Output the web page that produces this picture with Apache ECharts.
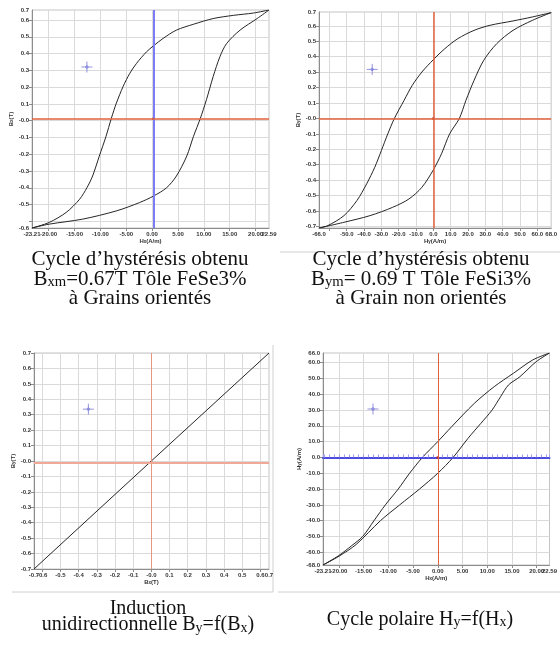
<!DOCTYPE html>
<html>
<head>
<meta charset="utf-8">
<script src="https://cdn.jsdelivr.net/npm/echarts@6/dist/echarts.min.js"></script>
<style>
  html, body { margin: 0; padding: 0; background: #fff; }
  #chart { width: 560px; height: 645px; }
</style>
</head>
<body>
<div id="chart"></div>
<script>
// Panneau 1 : Bx = f(Hx), tôle FeSi à grains orientés
const p1Upper = [[22.59, 0.66], [19.6, 0.642], [15.7, 0.628], [11.8, 0.609], [8.0, 0.575], [4.7, 0.54], [2.1, 0.49], [0.3, 0.447], [-1.1, 0.41], [-3.0, 0.342], [-4.3, 0.283], [-5.6, 0.204], [-6.9, 0.105], [-7.9, 0.012], [-8.9, -0.093], [-10.2, -0.211], [-11.5, -0.33], [-12.6, -0.4], [-14.0, -0.468], [-16.6, -0.547], [-19.9, -0.607], [-23.21, -0.64]];
const p1Lower = [[-23.21, -0.64], [-19.9, -0.617], [-13.4, -0.587], [-6.9, -0.538], [-2.4, -0.488], [0.3, -0.449], [2.8, -0.4], [4.7, -0.33], [6.7, -0.211], [8.0, -0.093], [9.3, 0.012], [10.5, 0.125], [11.8, 0.263], [13.1, 0.381], [14.4, 0.46], [17.0, 0.54], [20.3, 0.609], [22.59, 0.66]];
const p1XTicks = [-20, -15, -10, -5, 0, 5, 10, 15, 20];
const p1XLabels = ["-20.00", "-15.00", "-10.00", "-5.00", "0.00", "5.00", "10.00", "15.00", "20.00"];
const p1XEnds = [-23.21, 22.59];
const p1XEndLabels = ["-23.21", "22.59"];
const p1YTicks = [-0.6, -0.5, -0.4, -0.3, -0.2, -0.1, 0, 0.1, 0.2, 0.3, 0.4, 0.5, 0.6];
const p1YLabelValues = [-0.64, -0.5, -0.4, -0.3, -0.2, -0.1, 0, 0.1, 0.2, 0.3, 0.4, 0.5, 0.6, 0.66];
const p1YLabels = ["-0.6", "-0.5", "-0.4", "-0.3", "-0.2", "-0.1", "-0.0", "0.1", "0.2", "0.3", "0.4", "0.5", "0.6", "0.7"];
const p1Cursor = [0.25, 0.012];
const p1Marker = [-12.6, 0.32];

// Panneau 2 : By = f(Hy), tôle FeSi à grains non orientés
const p2Upper = [[68, 0.686], [57.2, 0.658], [46, 0.632], [32.8, 0.604], [23.5, 0.571], [14.1, 0.517], [6.6, 0.452], [0, 0.381], [-6.6, 0.301], [-12.2, 0.214], [-16.9, 0.117], [-22.5, 0], [-26.3, -0.1], [-30, -0.208], [-33.8, -0.316], [-38.5, -0.424], [-44.1, -0.532], [-51.6, -0.63], [-61, -0.695], [-66, -0.71]];
const p2Lower = [[-66, -0.71], [-51.6, -0.673], [-36.6, -0.63], [-23.5, -0.576], [-14.1, -0.522], [-6.6, -0.446], [0, -0.333], [4.7, -0.229], [9.4, -0.1], [15, 0], [18.8, 0.117], [23.5, 0.247], [29.1, 0.377], [36.6, 0.485], [46, 0.571], [57.2, 0.636], [68, 0.686]];
const p2XTicks = [-60, -50, -40, -30, -20, -10, 0, 10, 20, 30, 40, 50, 60];
const p2XLabelValues = [-50, -40, -30, -20, -10, 0, 10, 20, 30, 40, 50, 60];
const p2XLabels = ["-50.0", "-40.0", "-30.0", "-20.0", "-10.0", "0.0", "10.0", "20.0", "30.0", "40.0", "50.0", "60.0"];
const p2XEnds = [-66, 68];
const p2XEndLabels = ["-66.0", "68.0"];
const p2YTicks = [-0.7, -0.6, -0.5, -0.4, -0.3, -0.2, -0.1, 0, 0.1, 0.2, 0.3, 0.4, 0.5, 0.6];
const p2YLabelValues = [-0.7, -0.6, -0.5, -0.4, -0.3, -0.2, -0.1, 0, 0.1, 0.2, 0.3, 0.4, 0.5, 0.6, 0.69];
const p2YLabels = ["-0.7", "-0.6", "-0.5", "-0.4", "-0.3", "-0.2", "-0.1", "-0.0", "0.1", "0.2", "0.3", "0.4", "0.5", "0.6", "0.7"];
const p2Cursor = [0, 0];
const p2Marker = [-35.3, 0.318];

// Panneau 3 : induction unidirectionnelle By = f(Bx)
const p3Line = [[-0.645, -0.7], [0, 0], [0.647, 0.7]];
const p3XTicks = [-0.6, -0.5, -0.4, -0.3, -0.2, -0.1, 0, 0.1, 0.2, 0.3, 0.4, 0.5, 0.6];
const p3XLabels = ["-0.6", "-0.5", "-0.4", "-0.3", "-0.2", "-0.1", "-0.0", "0.1", "0.2", "0.3", "0.4", "0.5", "0.6"];
const p3XEnds = [-0.645, 0.647];
const p3XEndLabels = ["-0.7", "0.7"];
const p3YTicks = [-0.7, -0.6, -0.5, -0.4, -0.3, -0.2, -0.1, 0, 0.1, 0.2, 0.3, 0.4, 0.5, 0.6, 0.7];
const p3YLabels = ["-0.7", "-0.6", "-0.5", "-0.4", "-0.3", "-0.2", "-0.1", "-0.0", "0.1", "0.2", "0.3", "0.4", "0.5", "0.6", "0.7"];
const p3Cursor = [0, -0.01];
const p3Marker = [-0.346, 0.336];

// Panneau 4 : cycle polaire Hy = f(Hx)
const p4Upper = [[22.59, 66], [19.2, 61.6], [15.3, 53.2], [11.4, 44.7], [7.4, 34.2], [2.8, 19.4], [0, 10], [-3.1, 0], [-5.7, -10], [-8, -20], [-10.6, -30], [-12.9, -40], [-15.2, -50], [-17.5, -56], [-20, -62], [-23.21, -68]];
const p4Lower = [[-23.21, -68], [-20, -62.5], [-16.5, -55], [-11.6, -40], [-7.7, -30], [-3.7, -20], [0, -10], [3.1, 0], [6.1, 12], [8.7, 21.5], [11, 30], [12.7, 38.4], [14.3, 45.8], [16.6, 51], [19.9, 60.5], [22.59, 66]];
const p4YTicks = [-60, -50, -40, -30, -20, -10, 0, 10, 20, 30, 40, 50, 60];
const p4YLabelValues = [-68, -60, -50, -40, -30, -20, -10, 0, 10, 20, 30, 40, 50, 60, 66];
const p4YLabels = ["-68.0", "-60.0", "-50.0", "-40.0", "-30.0", "-20.0", "-10.0", "0.0", "10.0", "20.0", "30.0", "40.0", "50.0", "60.0", "66.0"];
const p4Cursor = [0, 0];
const p4Marker = [-13.1, 30.6];

const AXIS_FONT = "'Liberation Sans', Arial, sans-serif";
const CAPTION_FONT = "'Liberation Serif', 'Times New Roman', serif";
const CURVE_COLOR = "#262626";
const MARKER_COLOR = "#7a7ad8";
const FRAME_COLOR = "#d0d0d0";

const labelText = { fontFamily: AXIS_FONT, fontSize: 6, fontWeight: "bold", color: "#333" };

function labelFor(value, values, texts) {
  const index = values.findIndex((item) => Math.abs(item - value) < 1e-9);
  return index < 0 ? "" : texts[index];
}

function buildAxis(gridIndex, min, max, ticks, labelValues, labels, name, nameGap, isY) {
  return {
    type: "value",
    gridIndex,
    min,
    max,
    position: isY ? "left" : "bottom",
    name,
    nameLocation: "middle",
    nameGap,
    nameRotate: isY ? 90 : 0,
    nameTextStyle: Object.assign({}, labelText, {
      rich: {
        b: labelText,
        s: Object.assign({}, labelText, { fontSize: 4.5, verticalAlign: "bottom", lineHeight: 4 }),
      },
    }),
    axisLine: { show: true, onZero: false, lineStyle: { color: "#8c8c8c", width: 1 } },
    axisTick: { show: true, length: 3, customValues: ticks, lineStyle: { color: "#8c8c8c" } },
    axisLabel: Object.assign({}, labelText, {
      customValues: labelValues,
      formatter: (value) => labelFor(value, labelValues, labels),
      hideOverlap: false,
      margin: 3,
    }),
    splitLine: { show: true, lineStyle: { color: "#dadada", width: 1 } },
  };
}

// second axe x, sans trait, qui ne porte que les étiquettes des extrémités
function endLabelAxis(gridIndex, ends, labels) {
  return {
    type: "value",
    gridIndex,
    min: ends[0],
    max: ends[1],
    position: "bottom",
    axisLine: { show: false, onZero: false },
    axisTick: { show: false },
    splitLine: { show: false },
    axisLabel: Object.assign({}, labelText, {
      customValues: ends,
      formatter: (value) => labelFor(value, ends, labels),
      hideOverlap: false,
      margin: 3,
    }),
  };
}

function curveSeries(axisIndex, data) {
  return {
    type: "line",
    xAxisIndex: axisIndex,
    yAxisIndex: axisIndex,
    data,
    showSymbol: false,
    smooth: 0.3,
    silent: true,
    lineStyle: { color: CURVE_COLOR, width: 1 },
    z: 3,
  };
}

function cursorSeries(axisIndex, cursor, vStyle, hStyle) {
  return {
    type: "scatter",
    xAxisIndex: axisIndex,
    yAxisIndex: axisIndex,
    data: [cursor],
    symbolSize: 3,
    itemStyle: { color: "#c0281a" },
    silent: true,
    z: 4,
    markLine: {
      silent: true,
      symbol: ["none", "none"],
      label: { show: false },
      data: [
        { xAxis: cursor[0], lineStyle: vStyle },
        { yAxis: cursor[1], lineStyle: hStyle },
      ],
    },
  };
}

function markerSeries(axisIndex, marker) {
  return {
    type: "scatter",
    xAxisIndex: axisIndex,
    yAxisIndex: axisIndex,
    data: [marker],
    symbol: "path://M0,6H12M6,0V12M7.4,6A1.4,1.4,0,1,1,4.6,6A1.4,1.4,0,1,1,7.4,6",
    symbolSize: 11,
    silent: true,
    itemStyle: { color: "transparent", borderColor: MARKER_COLOR, borderWidth: 1 },
    z: 5,
  };
}

function caption(x, y, text, size) {
  return {
    type: "text",
    x,
    y,
    style: {
      text,
      align: "center",
      verticalAlign: "middle",
      fontFamily: CAPTION_FONT,
      fontSize: size,
      lineHeight: size,
      fill: "#111",
      rich: {
        n: { fontFamily: CAPTION_FONT, fontSize: size, lineHeight: size, fill: "#111", verticalAlign: "middle" },
        s: { fontFamily: CAPTION_FONT, fontSize: size * 0.7, lineHeight: size * 0.5, fill: "#111", verticalAlign: "bottom" },
      },
    },
  };
}

function frameLine(x1, y1, x2, y2) {
  return {
    type: "line",
    silent: true,
    shape: { x1, y1, x2, y2 },
    style: { stroke: FRAME_COLOR, lineWidth: 1 },
  };
}

const gridStyle = { show: true, borderColor: "#c4c4c4", borderWidth: 1, backgroundColor: "transparent" };

const redLine = { color: "#e0623c", width: 1.5, type: "solid" };
const blueLine = { color: "#7c7cf4", width: 2, type: "solid" };
const paleRedThin = { color: "#e99680", width: 1, type: "solid" };
const paleRedWide = { color: "#f0a996", width: 2, type: "solid" };

const chart = echarts.init(document.getElementById("chart"), null, { renderer: "canvas" });

chart.setOption({
  animation: false,
  backgroundColor: "#fff",
  grid: [
    Object.assign({ left: 32, top: 10, width: 237, height: 218 }, gridStyle),
    Object.assign({ left: 319, top: 12, width: 240, height: 216 }, gridStyle),
    Object.assign({ left: 34, top: 353, width: 235, height: 216 }, gridStyle),
    Object.assign({ left: 323, top: 353, width: 235, height: 212 }, gridStyle),
  ],
  xAxis: [
    buildAxis(0, p1XEnds[0], p1XEnds[1], p1XTicks, p1XTicks, p1XLabels, "{b|H}{s|x}{b|(A/m)}", 9, false),
    buildAxis(1, p2XEnds[0], p2XEnds[1], p2XTicks, p2XLabelValues, p2XLabels, "{b|H}{s|y}{b|(A/m)}", 9, false),
    buildAxis(2, p3XEnds[0], p3XEnds[1], p3XTicks, p3XTicks, p3XLabels, "{b|B}{s|x}{b|(T)}", 9, false),
    buildAxis(3, p1XEnds[0], p1XEnds[1], p1XTicks, p1XTicks, p1XLabels, "{b|H}{s|x}{b|(A/m)}", 9, false),
    {
      type: "value",
      gridIndex: 3,
      min: p1XEnds[0],
      max: p1XEnds[1],
      splitNumber: 9,
      position: "top",
      axisLine: { show: true, onZero: true, lineStyle: { color: "#4a4ae0", width: 2 } },
      axisTick: { show: true, length: 3, lineStyle: { color: "#a0a0e8" } },
      minorTick: { show: true, splitNumber: 5, length: 3, lineStyle: { color: "#a0a0e8" } },
      axisLabel: { show: false },
      splitLine: { show: false },
      z: 4,
    },
    endLabelAxis(0, p1XEnds, p1XEndLabels),
    endLabelAxis(1, p2XEnds, p2XEndLabels),
    endLabelAxis(2, p3XEnds, p3XEndLabels),
    endLabelAxis(3, p1XEnds, p1XEndLabels),
  ],
  yAxis: [
    buildAxis(0, -0.64, 0.66, p1YTicks, p1YLabelValues, p1YLabels, "{b|B}{s|x}{b|(T)}", 7, true),
    buildAxis(1, -0.71, 0.69, p2YTicks, p2YLabelValues, p2YLabels, "{b|B}{s|y}{b|(T)}", 7, true),
    buildAxis(2, -0.7, 0.7, p3YTicks, p3YTicks, p3YLabels, "{b|B}{s|y}{b|(T)}", 8, true),
    buildAxis(3, -68, 66, p4YTicks, p4YLabelValues, p4YLabels, "{b|H}{s|y}{b|(A/m)}", 9, true),
  ],
  series: [
    curveSeries(0, p1Upper),
    curveSeries(0, p1Lower),
    cursorSeries(0, p1Cursor, blueLine, redLine),
    markerSeries(0, p1Marker),

    curveSeries(1, p2Upper),
    curveSeries(1, p2Lower),
    cursorSeries(1, p2Cursor, redLine, redLine),
    markerSeries(1, p2Marker),

    Object.assign(curveSeries(2, p3Line), { smooth: false }),
    cursorSeries(2, p3Cursor, paleRedThin, paleRedWide),
    markerSeries(2, p3Marker),

    curveSeries(3, p4Upper),
    curveSeries(3, p4Lower),
    cursorSeries(3, p4Cursor, Object.assign({}, redLine, { width: 1 }), { width: 0, opacity: 0 }),
    markerSeries(3, p4Marker),
  ],
  graphic: [
    frameLine(280, 252, 560, 252),
    frameLine(12, 592, 273, 592),
    frameLine(273, 345, 273, 592),
    frameLine(278, 592, 560, 592),
    caption(140, 259.5, "Cycle d’hystérésis obtenu", 21),
    caption(140, 279, "{n|B}{s|xm}{n|=0.67T Tôle FeSe3%}", 21),
    caption(140, 298.5, "à Grains orientés", 21),
    caption(421, 259.5, "Cycle d’hystérésis obtenu", 21),
    caption(421, 279, "{n|B}{s|ym}{n|= 0.69 T Tôle FeSi3%}", 21),
    caption(421, 298.5, "à Grain non orientés", 21),
    caption(148, 608.6, "Induction", 20),
    caption(148, 625.2, "unidirectionnelle {n|B}{s|y}{n|=f(B}{s|x}{n|)}", 20),
    caption(420, 619.6, "Cycle polaire {n|H}{s|y}{n|=f(H}{s|x}{n|)}", 20),
  ],
});
</script>
</body>
</html>
